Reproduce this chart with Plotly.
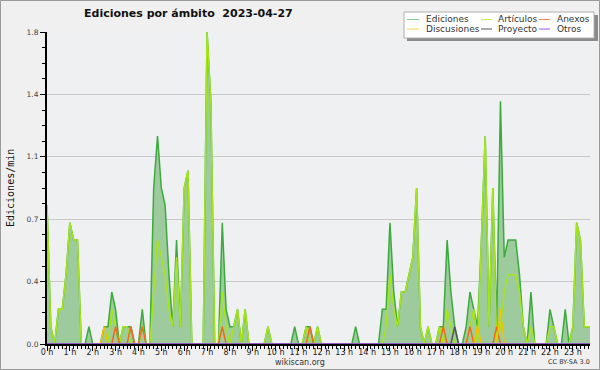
import plotly.graph_objects as go

# ---------------- data (10-minute bins, edits per minute) ----------------
hours = list(range(24))
hour_labels = [f"{h} h" for h in hours]
y_ticks = [0, 0.36, 0.72, 1.08, 1.44, 1.8]
y_tick_labels = ["0.0", "0.4", "0.7", "1.1", "1.4", "1.8"]

ediciones = [
    0.8, 0.1, 0, 0.2, 0.2, 0.4, 0.7, 0.6, 0.6, 0, 0, 0.1,
    0, 0, 0, 0.1, 0.1, 0.3, 0.2, 0, 0.1, 0.1, 0.1, 0,
    0, 0.2, 0, 0, 0.9, 1.2, 0.9, 0.8, 0.4, 0.1, 0.6, 0.1,
    0.9, 1.0, 0, 0, 0, 0, 1.8, 1.4, 0, 0, 0.7, 0.2,
    0.1, 0.1, 0.2, 0, 0.2, 0, 0, 0, 0, 0, 0.1, 0,
    0, 0, 0, 0, 0, 0.1, 0, 0, 0.1, 0.1, 0, 0.1,
    0, 0, 0, 0, 0, 0, 0, 0, 0, 0.1, 0, 0,
    0, 0, 0, 0, 0.2, 0.2, 0.7, 0.3, 0.1, 0.3, 0.3, 0.4,
    0.5, 0.9, 0.1, 0, 0.1, 0, 0, 0.1, 0.1, 0.6, 0.3, 0.1,
    0, 0, 0.1, 0.3, 0.2, 0.1, 0.6, 1.2, 0.1, 0.9, 0.1, 1.4,
    0.5, 0.6, 0.6, 0.6, 0.4, 0.1, 0, 0.3, 0, 0, 0, 0,
    0.2, 0.1, 0, 0, 0.2, 0, 0.1, 0.7, 0.6, 0.1, 0.1, 0.1,
]
articulos = [
    0.8, 0.1, 0, 0.2, 0.2, 0.4, 0.7, 0.6, 0.6, 0, 0, 0,
    0, 0, 0, 0, 0, 0.2, 0.1, 0, 0.1, 0.1, 0, 0,
    0, 0.1, 0, 0, 0.3, 0.6, 0.5, 0.4, 0.2, 0.1, 0.5, 0.1,
    0.9, 1.0, 0, 0, 0, 0, 1.8, 1.4, 0, 0, 0.3, 0.1,
    0, 0.1, 0.2, 0, 0.2, 0, 0, 0, 0, 0, 0.1, 0,
    0, 0, 0, 0, 0, 0, 0, 0, 0.1, 0, 0, 0.1,
    0, 0, 0, 0, 0, 0, 0, 0, 0, 0, 0, 0,
    0, 0, 0, 0, 0, 0.1, 0.4, 0.2, 0.1, 0.3, 0.3, 0.4,
    0.5, 0.9, 0.1, 0, 0.1, 0, 0, 0.1, 0, 0.2, 0.1, 0,
    0, 0, 0, 0.1, 0.2, 0, 0.6, 1.2, 0.1, 0.9, 0, 0.1,
    0.3, 0.4, 0.4, 0.4, 0.3, 0.1, 0, 0.1, 0, 0, 0, 0,
    0.1, 0.1, 0, 0, 0, 0, 0.1, 0.7, 0.6, 0.1, 0.1, 0.1,
]
anexos = [
    0, 0, 0, 0, 0, 0, 0, 0, 0, 0, 0, 0,
    0, 0, 0, 0, 0, 0, 0.1, 0, 0, 0, 0.1, 0,
    0, 0.1, 0, 0, 0, 0, 0, 0, 0, 0, 0, 0,
    0, 0, 0, 0, 0, 0, 0, 0, 0, 0, 0.1, 0,
    0, 0, 0, 0, 0, 0, 0, 0, 0, 0, 0, 0,
    0, 0, 0, 0, 0, 0, 0, 0, 0, 0.1, 0, 0,
    0, 0, 0, 0, 0, 0, 0, 0, 0, 0, 0, 0,
    0, 0, 0, 0, 0, 0, 0, 0, 0, 0, 0, 0,
    0, 0, 0, 0, 0, 0, 0, 0, 0.1, 0, 0, 0,
    0, 0, 0, 0.1, 0, 0, 0, 0, 0, 0, 0.1, 0,
    0, 0, 0, 0, 0, 0, 0, 0, 0, 0, 0, 0,
    0, 0, 0, 0, 0, 0, 0, 0, 0, 0, 0, 0,
]
discusiones = [
    0, 0, 0, 0, 0, 0, 0, 0, 0, 0, 0, 0,
    0, 0, 0, 0.1, 0, 0, 0, 0, 0, 0, 0, 0,
    0, 0, 0, 0, 0, 0, 0, 0, 0, 0, 0, 0,
    0, 0, 0, 0, 0, 0, 0, 0, 0, 0, 0, 0,
    0, 0, 0, 0, 0, 0, 0, 0, 0, 0, 0, 0,
    0, 0, 0, 0, 0, 0, 0, 0, 0, 0, 0, 0,
    0, 0, 0, 0, 0, 0, 0, 0, 0, 0, 0, 0,
    0, 0, 0, 0, 0, 0, 0, 0, 0, 0, 0, 0,
    0, 0, 0, 0, 0, 0, 0, 0, 0, 0, 0, 0,
    0, 0, 0, 0, 0, 0.1, 0, 0, 0, 0, 0, 0.2,
    0, 0, 0, 0, 0, 0, 0, 0, 0, 0, 0, 0,
    0, 0, 0, 0, 0, 0, 0, 0, 0, 0, 0, 0,
]
proyecto = [
    0, 0, 0, 0, 0, 0, 0, 0, 0, 0, 0, 0,
    0, 0, 0, 0, 0, 0, 0, 0, 0, 0, 0, 0,
    0, 0, 0, 0, 0, 0, 0, 0, 0, 0, 0, 0,
    0, 0, 0, 0, 0, 0, 0, 0, 0, 0, 0, 0,
    0, 0, 0, 0, 0, 0, 0, 0, 0, 0, 0, 0,
    0, 0, 0, 0, 0, 0, 0, 0, 0, 0, 0, 0,
    0, 0, 0, 0, 0, 0, 0, 0, 0, 0, 0, 0,
    0, 0, 0, 0, 0, 0, 0, 0, 0, 0, 0, 0,
    0, 0, 0, 0, 0, 0, 0, 0, 0, 0, 0, 0.1,
    0, 0, 0, 0, 0, 0, 0, 0, 0, 0, 0, 0,
    0, 0, 0, 0, 0, 0, 0, 0, 0, 0, 0, 0,
    0, 0, 0, 0, 0, 0, 0, 0, 0, 0, 0, 0,
]
otros = [0] * 144

series_names = ["Ediciones", "Artículos", "Anexos", "Discusiones", "Proyecto", "Otros"]
series_colors = ["#3caa3c", "#a6e619", "#f2691e", "#f5c000", "#555555", "#9955ee"]
legend_colors = ["#86cc86", "#c4ec4a", "#f2875a", "#f7d24a", "#555555", "#9955ee"]

# x positions: start of each 10-minute bin, in hours
x = [i / 6 for i in range(len(ediciones))]

# ---------------- figure ----------------
W, H = 600, 370
ML, MR, MT, MB = 47, 10, 32, 26
PW, PH = W - ML - MR, H - MT - MB


def px(v):
    return (v - ML) / PW


def py(v):
    return (H - MB - v) / PH


fig = go.Figure()
fig.add_trace(go.Scatter(x=x, y=ediciones, mode="lines", fill="tozeroy",
                         fillcolor="#9ecb9e",
                         line=dict(color=series_colors[0], width=1.5),
                         name=series_names[0], showlegend=False))
for name, vals, col in zip(series_names[1:],
                           [articulos, anexos, discusiones, proyecto, otros],
                           series_colors[1:]):
    fig.add_trace(go.Scatter(x=x, y=vals, mode="lines",
                             line=dict(color=col, width=1.5),
                             name=name, showlegend=False))

font_main = "DejaVu Sans"

fig.update_layout(
    width=W, height=H,
    margin=dict(l=ML, r=MR, t=MT, b=MB, pad=0),
    paper_bgcolor="#f0f0f0",
    plot_bgcolor="#eef0f2",
    showlegend=False,
    xaxis=dict(
        range=[0, 23.75], tickmode="array", tickvals=hours, ticktext=hour_labels,
        ticks="outside", ticklen=5, tickwidth=1, tickcolor="#000",
        showline=True, linecolor="#000", linewidth=2,
        showgrid=False, zeroline=False,
        tickfont=dict(family=font_main, size=8, color="#222"),
        minor=dict(tickmode="array", tickvals=[k / 6 for k in range(143)],
                   ticks="outside", ticklen=3, tickcolor="#000", showgrid=False),
        ticklabelstandoff=-6,
    ),
    yaxis=dict(
        range=[0, 1.8], tickmode="array", tickvals=y_ticks, ticktext=y_tick_labels,
        ticks="outside", ticklen=5, tickwidth=1, tickcolor="#000",
        showline=True, linecolor="#000", linewidth=2,
        showgrid=True, gridcolor="#c8c8c8", gridwidth=1, zeroline=False,
        tickfont=dict(family=font_main, size=7.5, color="#444"),
        minor=dict(tickmode="array", tickvals=[k * 0.09 for k in range(21)],
                   ticks="outside", ticklen=3, tickcolor="#000", showgrid=False),
    ),
)

annotations = [
    dict(text="<b>Ediciones por ámbito\u00a0\u00a02023-04-27</b>", x=px(188), y=py(14),
         font=dict(family=font_main, size=11, color="#111")),
    dict(text="Ediciones/min", x=px(10), y=py(188), textangle=-90,
         font=dict(family="DejaVu Sans Mono", size=10, color="#111")),
    dict(text="wikiscan.org", x=px(300), y=py(362),
         font=dict(family=font_main, size=8, color="#333")),
    dict(text="CC BY-SA 3.0", x=px(569), y=py(362),
         font=dict(family=font_main, size=6.5, color="#333")),
]

shapes = [
    # outer border
    dict(type="rect", xref="paper", yref="paper", x0=px(0.5), x1=px(599.5),
         y0=py(369.5), y1=py(0.5), line=dict(color="#9a9a9a", width=1)),
    # legend shadow and box
    dict(type="rect", xref="paper", yref="paper", x0=px(407), x1=px(598),
         y0=py(41), y1=py(15), fillcolor="#8a8a8a", line=dict(width=0)),
    dict(type="rect", xref="paper", yref="paper", x0=px(404), x1=px(594),
         y0=py(38), y1=py(12), fillcolor="#ffffff",
         line=dict(color="#b0b0b0", width=1)),
]

leg_cols = [(407, 419, 424), (481, 492, 496), (539, 550, 555)]
leg_rows = [19.5, 29]
for k, (name, col) in enumerate(zip(series_names, legend_colors)):
    r, c = divmod(k, 3)
    x0, x1, xt = leg_cols[c]
    yy = leg_rows[r]
    shapes.append(dict(type="line", xref="paper", yref="paper",
                       x0=px(x0), x1=px(x1), y0=py(yy), y1=py(yy),
                       line=dict(color=col, width=1)))
    annotations.append(dict(text=name, x=px(xt), y=py(yy), xanchor="left",
                            font=dict(family=font_main, size=9, color="#333")))

for a in annotations:
    a.setdefault("xref", "paper")
    a.setdefault("yref", "paper")
    a.setdefault("showarrow", False)
    a.setdefault("xanchor", "center")
    a.setdefault("yanchor", "middle")

fig.update_layout(annotations=annotations, shapes=shapes)

fig.write_html(
    "out.html",
    config={"displayModeBar": False},
    post_script="document.body.style.margin='0';document.body.style.overflow='hidden';",
)
